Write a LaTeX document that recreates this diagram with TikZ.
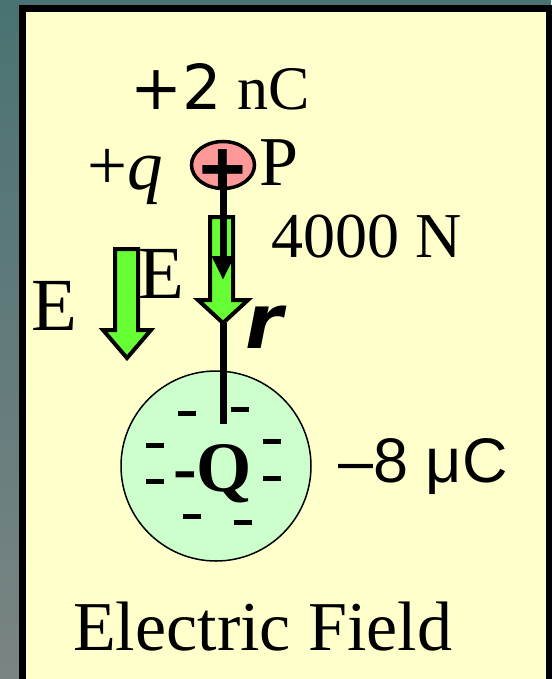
\documentclass[tikz,border=0pt]{standalone}
\usepackage{fontspec}
\setmainfont{Liberation Serif}
\setsansfont{Liberation Sans}
\newfontfamily\heavysans{DejaVu Sans}
\usetikzlibrary{arrows.meta,shapes.geometric}
\definecolor{slatetop}{RGB}{74,114,114}
\definecolor{slatebottom}{RGB}{122,132,132}
\definecolor{panelyellow}{RGB}{255,255,204}
\definecolor{fieldgreen}{RGB}{102,255,51}
\definecolor{chargepink}{RGB}{255,153,153}
\definecolor{sourcegreen}{RGB}{204,255,204}
\tikzset{
  txt/.style={inner sep=0pt, anchor=base west, font=\fontsize{#1}{#1}\selectfont},
  panelbox/.style={draw=black, line width=7pt, fill=panelyellow},
  fieldarrow/.style={draw=black, line width=4pt, fill=fieldgreen, line join=miter},
  testcharge/.style={draw, ellipse, line width=3.5pt, fill=chargepink, minimum width=63pt, minimum height=47pt, inner sep=0pt},
  source/.style={draw, circle, line width=1.5pt, fill=sourcegreen, minimum size=190pt, inner sep=0pt},
  force/.style={draw, line width=7pt, -{Triangle[length=24pt,width=21pt]}},
  rline/.style={draw, line width=7pt},
  minus/.style={draw, line width=5pt}
}
\begin{document}
\begin{tikzpicture}[x=1pt, y=-1pt]
\useasboundingbox (0,0) rectangle (551,679);
\shade[top color=slatetop, bottom color=slatebottom] (0,0) rectangle (551,679);
\draw[panelbox] (22.5,8.5) rectangle (549.5,683);
% labels
\node[txt=62] (charge) at (130,110) {\heavysans +2\rmfamily\ nC};
\node[txt=71] (qsym) at (87,189) {+\textit{q}};
\node[txt=70] (plbl) at (259,185) {P};
\node[txt=64] (force) at (271,257) {4000 N};
\node[txt=75] (eleft) at (31,330) {E};
\node[txt=75] (emid) at (138,298) {E};
\node[txt=63] (qval) at (338,482) {\sffamily –8 μC};
\node[txt=70] (title) at (73,650) {Electric Field};
% field arrows
\draw[fieldarrow] (115,249) -- (138,249) -- (138,330) -- (151,330) -- (127,358) -- (103,330) -- (115,330) -- cycle;
\draw[fieldarrow] (210,217) -- (233,217) -- (233,300) -- (248,300) -- (223,323) -- (198,300) -- (210,300) -- cycle;
\coordinate (etip) at (223,323);
% source charge
\node[source] (Q) at (216,466) {};
\coordinate (rend) at (223,424);
\draw[rline] (etip) -- (rend);
\foreach \mx/\my in {187/413, 240/409, 155/445, 272/441, 155/481, 272/478, 192/516, 243/522}
  \draw[minus] (\mx-9,\my) -- (\mx+9,\my);
\node[txt=71] (qlbl) at (173,491) {\textbf{-Q}};
\node[txt=76] (rlbl) at (245,348) {\heavysans\bfseries\itshape r};
% test charge
\node[testcharge] (P) at (223,165) {};
\node[inner sep=0pt, font=\fontsize{80}{80}\selectfont\sffamily\bfseries] (plus) at (223,173) {+};
\coordinate (ftip) at (223,280);
\draw[force] (plus.center) -- (ftip);
\end{tikzpicture}
\end{document}
